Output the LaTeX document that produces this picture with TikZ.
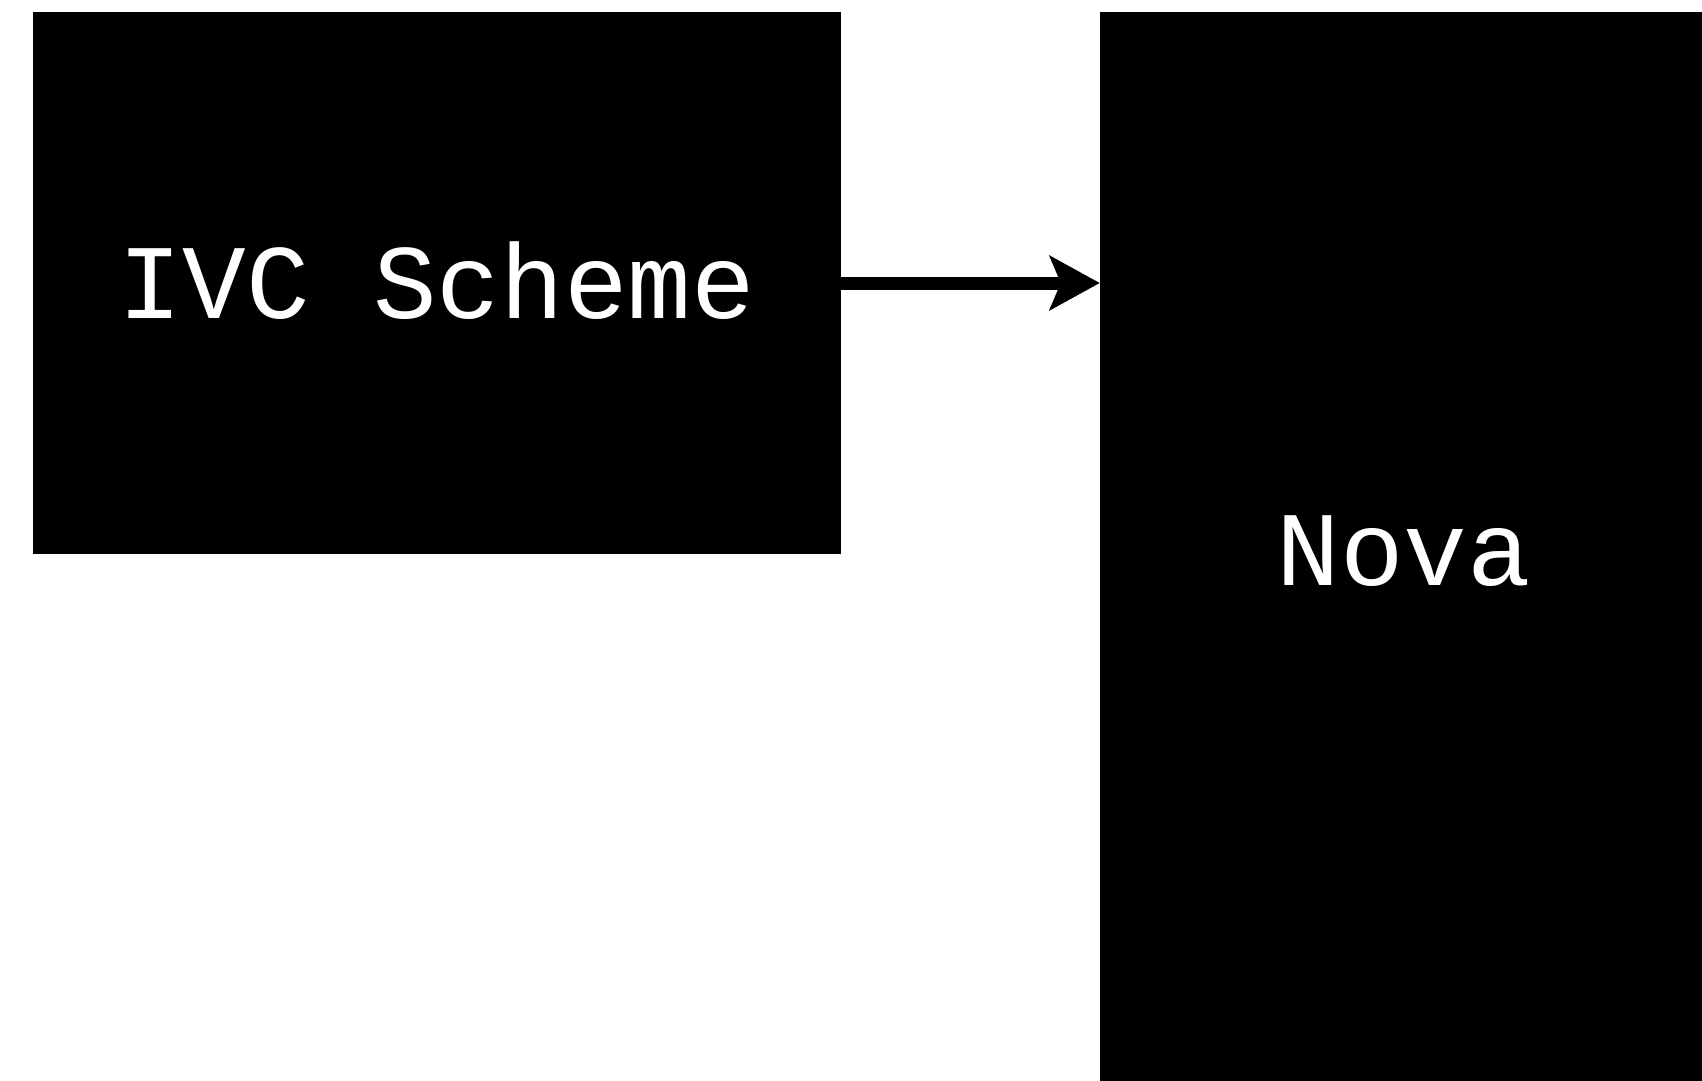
\documentclass[tikz,border=0pt]{standalone}
\usepackage{fontspec}
\setmonofont{Liberation Mono}
\usetikzlibrary{arrows.meta}
\begin{document}
\begin{tikzpicture}[x=1pt,y=-1pt,
  blockbox/.style={fill=black, draw=none, inner sep=0pt, text=white,
    font=\ttfamily\fontsize{106}{112}\selectfont,
    text height=70pt, text depth=0pt},
  flowarrow/.style={line width=13pt, -{Stealth[length=50pt,width=54pt,inset=11pt]}}]
  \useasboundingbox (0,0) rectangle (1702,1081);
  % the two blocks
  \node[blockbox, minimum width=808pt, minimum height=542pt] (ivc) at (437,283) {IVC Scheme};
  \node[blockbox, minimum width=608pt, minimum height=1076pt] (nova) at (1404,550) {Nova};
  % connector between them
  \draw[flowarrow] (ivc.east) -- (ivc.east -| nova.west);
\end{tikzpicture}
\end{document}
